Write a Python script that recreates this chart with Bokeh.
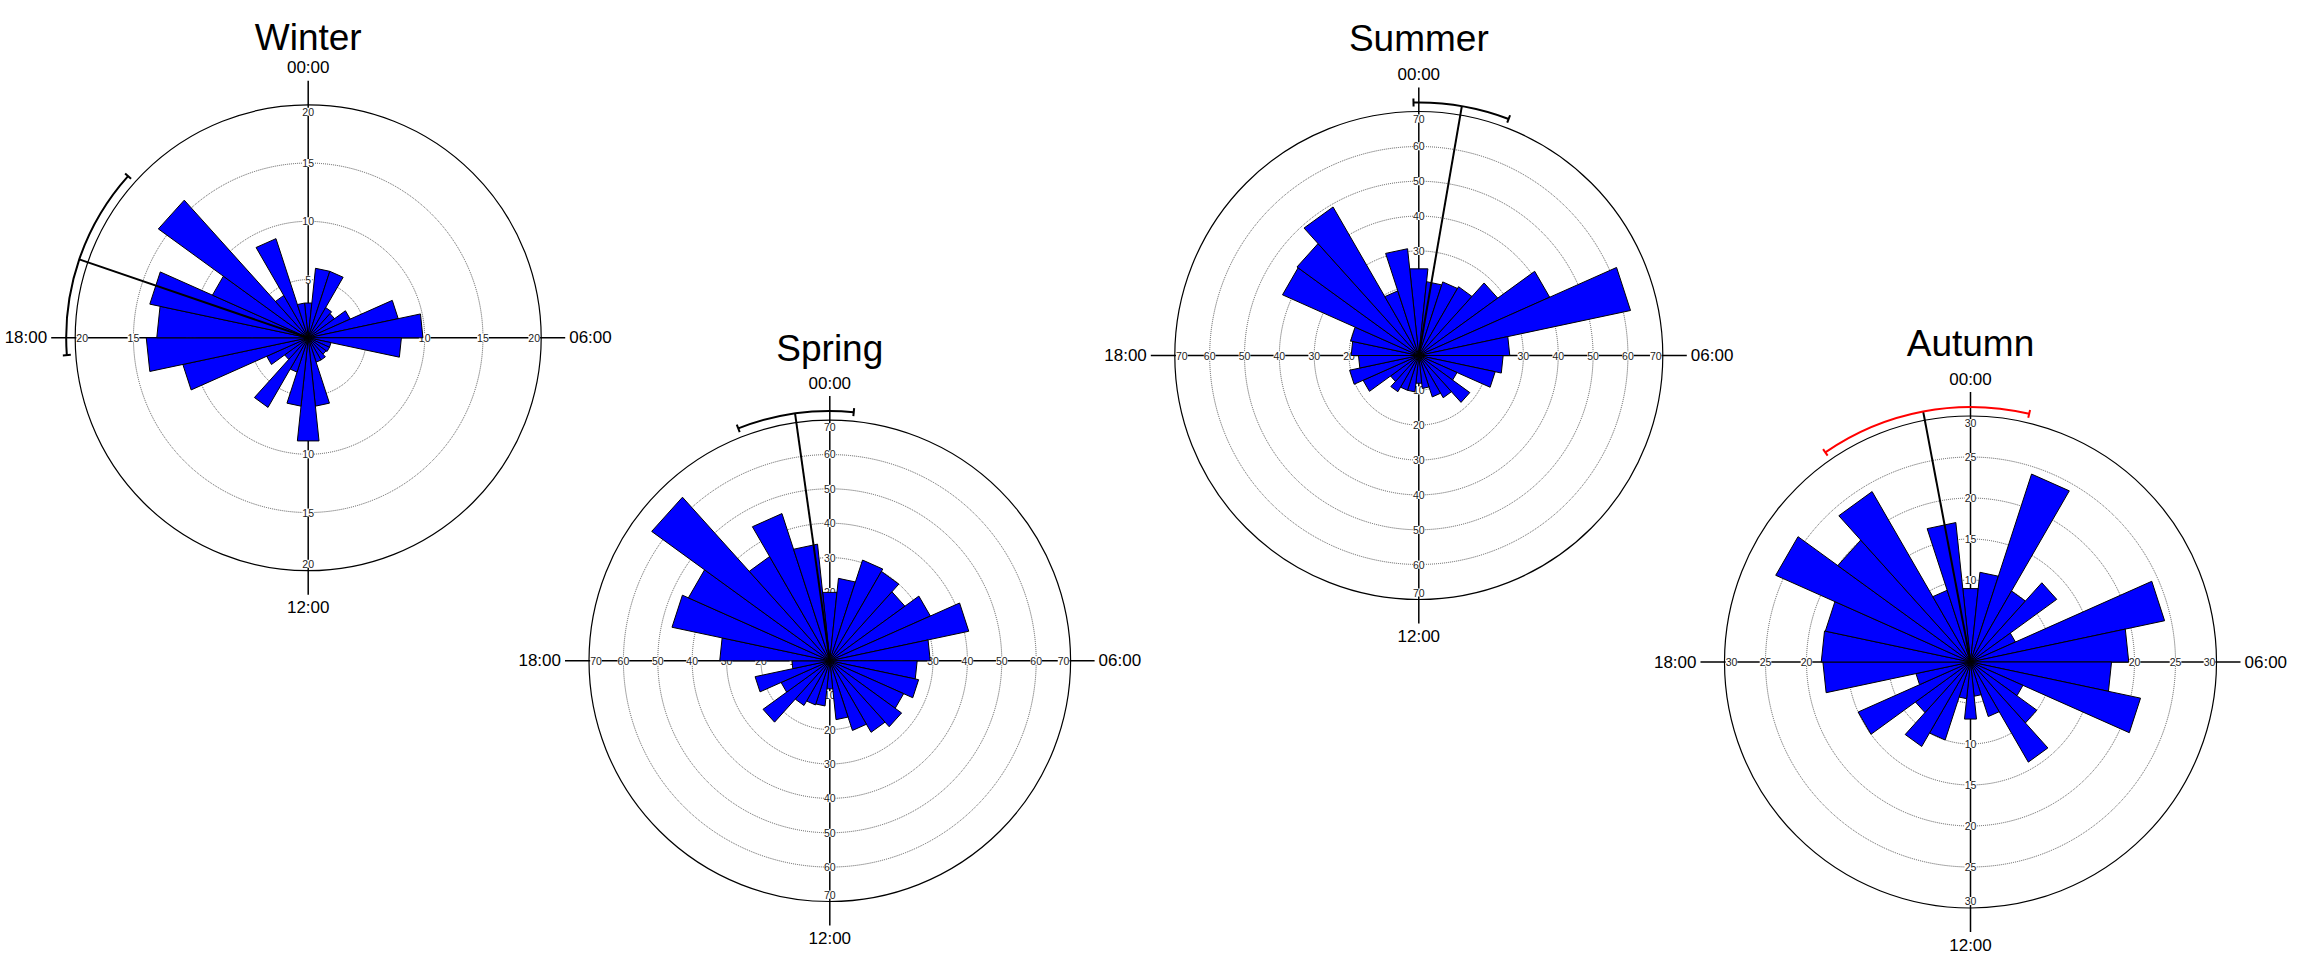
import math

from bokeh.core.properties import value
from bokeh.embed import file_html
from bokeh.models import Range1d
from bokeh.plotting import figure
from bokeh.resources import INLINE

W, H = 2315, 956
FONT = value("Liberation Sans")

# Hour-of-day rose diagrams: 30 bins of 48 minutes, the first one centred on 00:00
N_BINS = 30
hour_labels = ["00:00", "06:00", "12:00", "18:00"]

winter_counts = [3.0, 6.0, 6.0, 3.0, 2.8, 3.95, 7.9, 9.85, 8.0, 2.0,
                 2.0, 1.9, 2.2, 2.2, 5.9, 8.9, 5.9, 3.1, 6.9, 2.5,
                 3.9, 11.0, 13.9, 13.0, 13.9, 9.0, 15.9, 4.2, 8.95, 3.0]
spring_counts = [20.0, 24.1, 30.8, 30.0, 27.0, 32.0, 41.3, 29.2, 25.4, 26.4,
                 23.5, 25.8, 24.0, 21.3, 17.2, 8.2, 13.2, 13.5, 15.0, 24.0,
                 15.5, 22.2, 11.0, 32.0, 46.9, 45.0, 64.0, 35.0, 45.0, 34.1]
summer_counts = [25.0, 21.3, 22.2, 22.8, 28.0, 41.1, 62.1, 26.1, 24.2, 22.4,
                 12.0, 18.1, 14.0, 12.5, 9.5, 8.0, 10.5, 10.5, 12.0, 10.0,
                 17.5, 20.3, 17.3, 19.4, 20.0, 42.8, 43.2, 49.2, 19.5, 30.8]
autumn_counts = [9.0, 11.0, 24.1, 10.0, 13.0, 6.0, 24.2, 19.3, 17.2, 21.2,
                 7.0, 10.0, 14.1, 7.0, 4.2, 7.0, 4.5, 10.0, 11.9, 8.3,
                 15.0, 6.8, 18.0, 18.2, 18.1, 26.0, 20.0, 24.0, 9.2, 17.1]

winter_rings = [5, 10, 15, 20]
spring_rings = [10, 20, 30, 40, 50, 60, 70]
summer_rings = [10, 20, 30, 40, 50, 60, 70]
autumn_rings = [5, 10, 15, 20, 25, 30]

# mean direction (degrees clockwise from 00:00) and half-width of its confidence arc
winter_mean, winter_ci = 288.9, 23.0
spring_mean, spring_ci = 352.0, 13.5
summer_mean, summer_ci = 9.8, 11.0
autumn_mean, autumn_ci = 349.3, 24.0

season_titles = ["Winter", "Spring", "Summer", "Autumn"]

# page placement of each rose: centre (px), outer-ring radius (px), title baseline (px)
panels = [
    dict(key="winter", title=season_titles[0], counts=winter_counts, rings=winter_rings,
         mean=winter_mean, ci=winter_ci, arc_color="black",
         cx=307.7, cy=337.3, rpx=233.0, title_y=37.0),
    dict(key="spring", title=season_titles[1], counts=spring_counts, rings=spring_rings,
         mean=spring_mean, ci=spring_ci, arc_color="black",
         cx=829.3, cy=660.3, rpx=240.8, title_y=348.0),
    dict(key="summer", title=season_titles[2], counts=summer_counts, rings=summer_rings,
         mean=summer_mean, ci=summer_ci, arc_color="black",
         cx=1418.3, cy=355.0, rpx=244.0, title_y=38.0),
    dict(key="autumn", title=season_titles[3], counts=autumn_counts, rings=autumn_rings,
         mean=autumn_mean, ci=autumn_ci, arc_color="red",
         cx=1970.0, cy=661.5, rpx=246.0, title_y=342.5),
]

p = figure(width=W, height=H, output_backend="svg", toolbar_location=None,
           x_range=Range1d(0, W), y_range=Range1d(0, H),
           x_axis_type=None, y_axis_type=None, min_border=0)
p.outline_line_color = None
p.background_fill_color = "white"
p.border_fill_color = "white"

# every rose gets its own pair of ranges, in count units, with equal x/y scale
xr, yr = {}, {}
for pn in panels:
    s = pn["rpx"] / pn["rings"][-1]
    pn["s"] = s
    xr[pn["key"]] = Range1d(-pn["cx"] / s, (W - pn["cx"]) / s)
    yr[pn["key"]] = Range1d(-(H - pn["cy"]) / s, pn["cy"] / s)
p.extra_x_ranges = xr
p.extra_y_ranges = yr


def draw_rose(pn):
    kw = dict(x_range_name=pn["key"], y_range_name=pn["key"])
    s = pn["s"]
    rings = pn["rings"]
    rmax = rings[-1]

    def px(n):
        return n / s

    # grid rings: dotted inside, solid outer ring
    inner = rings[:-1]
    p.circle(x=[0] * len(inner), y=[0] * len(inner), radius=inner,
             fill_color=None, line_color="#555555", line_dash="1 1", line_width=1, **kw)
    p.circle(x=[0], y=[0], radius=[rmax], fill_color=None,
             line_color="black", line_width=1.2, **kw)

    # the two axes through the centre
    ext = rmax + px(24)
    p.segment(x0=[0, -ext], y0=[-ext, 0], x1=[0, ext], y1=[ext, 0],
              line_color="black", line_width=1.5, **kw)

    # ring values along the axes, outermost pulled just inside the ring
    tx, ty, tt = [], [], []
    for r in rings:
        rr = r if r < rmax else rmax - px(7)
        for dx, dy in ((0, 1), (0, -1), (1, 0), (-1, 0)):
            tx.append(dx * rr)
            ty.append(dy * rr)
            tt.append(str(r))
    p.text(x=tx, y=ty, text=tt, text_font=FONT, text_font_size="10.5px",
           text_color="#222222", text_align="center", text_baseline="middle",
           background_fill_color="white", **kw)

    # the bars: one wedge per 48-minute bin
    width = 360.0 / N_BINS
    xs, ys = [], []
    for k, v in enumerate(pn["counts"]):
        a0 = math.radians(k * width - width / 2)
        a1 = math.radians(k * width + width / 2)
        xs.append([0, v * math.sin(a0), v * math.sin(a1)])
        ys.append([0, v * math.cos(a0), v * math.cos(a1)])
    p.patches(xs=xs, ys=ys, fill_color="#0000ff", line_color="black", line_width=1, **kw)

    # mean direction and its confidence arc
    arc_r = rmax + px(9)
    t = math.radians(pn["mean"])
    p.segment(x0=[0], y0=[0], x1=[arc_r * math.sin(t)], y1=[arc_r * math.cos(t)],
              line_color="black", line_width=2, **kw)
    lo, hi = pn["mean"] - pn["ci"], pn["mean"] + pn["ci"]
    p.arc(x=[0], y=[0], radius=[arc_r],
          start_angle=[math.radians(90 - hi)], end_angle=[math.radians(90 - lo)],
          direction="anticlock", line_color=pn["arc_color"], line_width=2, **kw)
    cap = px(4)
    cx0, cy0, cx1, cy1 = [], [], [], []
    for e in (lo, hi):
        te = math.radians(e)
        cx0.append((arc_r - cap) * math.sin(te))
        cy0.append((arc_r - cap) * math.cos(te))
        cx1.append((arc_r + cap) * math.sin(te))
        cy1.append((arc_r + cap) * math.cos(te))
    p.segment(x0=cx0, y0=cy0, x1=cx1, y1=cy1, line_color=pn["arc_color"],
              line_width=2, **kw)

    # clock labels at the ends of the axes
    vgap = rmax + px(37)
    hgap = rmax + px(28)
    p.text(x=[0, 0], y=[vgap, -vgap], text=[hour_labels[0], hour_labels[2]],
           text_font=FONT, text_font_size="17px", text_color="black",
           text_align="center", text_baseline="middle", **kw)
    p.text(x=[hgap], y=[0], text=[hour_labels[1]], text_font=FONT,
           text_font_size="17px", text_color="black",
           text_align="left", text_baseline="middle", **kw)
    p.text(x=[-hgap], y=[0], text=[hour_labels[3]], text_font=FONT,
           text_font_size="17px", text_color="black",
           text_align="right", text_baseline="middle", **kw)

    # season title
    p.text(x=[0], y=[(pn["cy"] - pn["title_y"]) / s], text=[pn["title"]],
           text_font=FONT, text_font_size="37px", text_color="black",
           text_align="center", text_baseline="alphabetic", **kw)


for pn in panels:
    draw_rose(pn)

open("out.html", "w").write(file_html(p, INLINE))
